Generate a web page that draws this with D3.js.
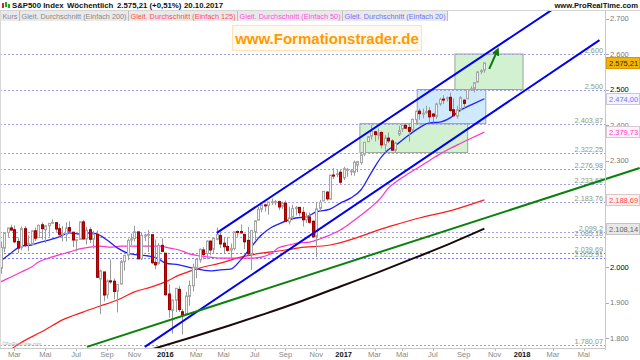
<!DOCTYPE html>
<html>
<head>
<meta charset="utf-8">
<script src="https://cdn.jsdelivr.net/npm/d3@7"></script>
<style>
    body { margin: 0; background: #fff; }
    svg { display: block; font-family: "Liberation Sans", Arial, sans-serif; }
</style>
</head>
<body>
<svg id="chart" width="640" height="360"></svg>
<script>

// weekly candles (week start, Monday)
var weeks = [
    "2015-02-02","2015-02-09","2015-02-16","2015-02-23","2015-03-02","2015-03-09","2015-03-16","2015-03-23","2015-03-30","2015-04-06",
    "2015-04-13","2015-04-20","2015-04-27","2015-05-04","2015-05-11","2015-05-18","2015-05-25","2015-06-01","2015-06-08","2015-06-15",
    "2015-06-22","2015-06-29","2015-07-06","2015-07-13","2015-07-20","2015-07-27","2015-08-03","2015-08-10","2015-08-17","2015-08-24",
    "2015-08-31","2015-09-07","2015-09-14","2015-09-21","2015-09-28","2015-10-05","2015-10-12","2015-10-19","2015-10-26","2015-11-02",
    "2015-11-09","2015-11-16","2015-11-23","2015-11-30","2015-12-07","2015-12-14","2015-12-21","2015-12-28",
    "2016-01-04","2016-01-11","2016-01-18","2016-01-25","2016-02-01","2016-02-08","2016-02-15","2016-02-22","2016-02-29","2016-03-07",
    "2016-03-14","2016-03-21","2016-03-28","2016-04-04","2016-04-11","2016-04-18","2016-04-25","2016-05-02","2016-05-09","2016-05-16",
    "2016-05-23","2016-05-30","2016-06-06","2016-06-13","2016-06-20","2016-06-27","2016-07-04","2016-07-11","2016-07-18","2016-07-25",
    "2016-08-01","2016-08-08","2016-08-15","2016-08-22","2016-08-29","2016-09-05","2016-09-12","2016-09-19","2016-09-26","2016-10-03",
    "2016-10-10","2016-10-17","2016-10-24","2016-10-31","2016-11-07","2016-11-14","2016-11-21","2016-11-28","2016-12-05","2016-12-12",
    "2016-12-19","2016-12-26",
    "2017-01-02","2017-01-09","2017-01-16","2017-01-23","2017-01-30","2017-02-06","2017-02-13","2017-02-20","2017-02-27","2017-03-06",
    "2017-03-13","2017-03-20","2017-03-27","2017-04-03","2017-04-10","2017-04-17","2017-04-24","2017-05-01","2017-05-08","2017-05-15",
    "2017-05-22","2017-05-29","2017-06-05","2017-06-12","2017-06-19","2017-06-26","2017-07-03","2017-07-10","2017-07-17","2017-07-24",
    "2017-07-31","2017-08-07","2017-08-14","2017-08-21","2017-08-28","2017-09-04","2017-09-11","2017-09-18","2017-09-25","2017-10-02",
    "2017-10-09","2017-10-16"
];
var opens = [
    1996,2053,2097,2110,2105,2072,2055,2108,2064,2064, 2102,2083,2119,2105,2116,2124,2125,2108,2092,2092,
    2111,2098,2075,2078,2127,2079,2105,2078,2092,1966, 1986,1922,1961,1960,1932,1952,2015,2033,2076,2080,
    2099,2023,2090,2090,2091,2013,2010,2061,
    2039,1924,1878,1906,1937,1874,1867,1917,1947,1996, 2020,2048,2038,2073,2050,2078,2089,2067,2058,2047,
    2052,2100,2100,2092,2075,2036,2099,2132,2163,2175, 2173,2183,2184,2184,2171,2180,2127,2140,2164,2168,
    2154,2133,2141,2129,2086,2165,2186,2211,2191,2259, 2260,2267,
    2251,2273,2269,2267,2287,2294,2318,2353,2369,2381, 2371,2379,2344,2363,2355,2329,2374,2389,2399,2393,
    2387,2415,2439,2431,2437,2440,2431,2424,2459,2473, 2477,2478,2443,2425,2444,2470,2474,2501,2503,2521,
    2550,2555
];
var highs = [
    2072,2097,2110,2119,2117,2083,2114,2115,2089,2103, 2111,2120,2126,2117,2123,2134,2126,2121,2115,2126,
    2129,2098,2078,2128,2133,2114,2112,2102,2103,1993, 1986,1965,2021,1968,1951,2020,2034,2080,2094,2116,
    2099,2097,2094,2104,2091,2077,2067,2081,
    2039,1951,1908,1940,1947,1882,1930,1962,2009,2022, 2052,2056,2075,2074,2083,2111,2099,2084,2084,2066,
    2099,2103,2120,2092,2113,2103,2131,2169,2176,2178, 2183,2193,2189,2187,2184,2187,2170,2175,2172,2169,
    2169,2153,2154,2131,2183,2189,2214,2214,2259,2278, 2273,2273,
    2282,2279,2276,2300,2299,2319,2351,2368,2401,2383, 2390,2382,2371,2379,2360,2353,2398,2400,2403,2405,
    2418,2440,2446,2446,2454,2450,2434,2463,2477,2484, 2480,2491,2475,2454,2481,2472,2500,2509,2520,2552,
    2557,2575
];
var lows = [
    1981,2041,2085,2103,2067,2039,2047,2057,2045,2064, 2073,2082,2077,2067,2085,2122,2099,2086,2072,2072,
    2097,2056,2044,2078,2077,2063,2067,2052,1970,1867, 1903,1911,1953,1909,1872,1951,1990,2019,2062,2072,
    2022,2020,2073,2042,2008,1994,2006,2043,
    1918,1857,1812,1873,1873,1810,1867,1891,1931,1969, 2012,2022,2022,2033,2039,2075,2053,2039,2043,2025,
    2047,2085,2094,2050,2033,1992,2075,2132,2154,2156, 2147,2175,2174,2160,2164,2128,2120,2131,2145,2144,
    2114,2124,2122,2083,2028,2157,2186,2187,2190,2248, 2253,2233,
    2245,2254,2258,2257,2267,2288,2312,2352,2359,2354, 2359,2334,2322,2349,2328,2323,2369,2380,2390,2353,
    2381,2405,2415,2419,2431,2406,2407,2417,2454,2459, 2466,2437,2425,2418,2438,2447,2474,2496,2492,2520,
    2544,2547
];
var closes = [
    2055,2097,2110,2104,2071,2053,2108,2061,2067,2102, 2081,2117,2108,2116,2123,2126,2107,2092,2094,2110,
    2101,2076,2077,2127,2079,2104,2078,2092,1971,1989, 1921,1961,1958,1931,1951,2015,2033,2075,2079,2099,
    2023,2089,2090,2092,2012,2006,2061,2044,
    1922,1880,1907,1940,1880,1865,1918,1948,1999,2022, 2050,2035,2073,2048,2081,2092,2065,2057,2047,2052,
    2099,2099,2096,2071,2037,2103,2130,2162,2175,2174, 2183,2184,2184,2169,2180,2128,2139,2165,2168,2153,
    2133,2141,2126,2085,2164,2182,2213,2192,2259,2258, 2263,2239,
    2277,2275,2271,2295,2297,2316,2351,2367,2383,2373, 2378,2344,2363,2355,2329,2349,2384,2399,2391,2382,
    2416,2439,2432,2433,2438,2423,2425,2459,2472,2472, 2477,2441,2426,2443,2477,2461,2500,2502,2519,2549,
    2553,2575
];

// moving averages: [week index, value]
var sma20 = [[0,2017],[3,2039],[6,2059],[9,2062],[11,2068],[14,2076],[17,2085],[20,2096],[23,2093],[26,2096],
    [28,2093],[31,2076],[34,2054],[37,2039],[40,2034],[43,2031],[46,2023],[48,2011],[52,2006],[56,1997],
    [61,1989],[64,1992],[67,1994],[70,2020],[73,2056],[76,2090],[79,2112],[81,2121],[86,2138],[89,2141],
    [92,2155],[96,2163],[99,2180],[102,2194],[105,2217],[108,2265],[111,2310],[113,2330],[116,2349],[119,2372],
    [122,2392],[125,2406],[128,2408],[131,2420],[134,2442],[137,2456],[141,2474]];
var sma50 = [[0,1958],[3,1972],[6,1986],[9,2000],[11,2014],[14,2025],[17,2034],[20,2042],[23,2051],[26,2056],
    [29,2059],[32,2056],[35,2059],[38,2059],[41,2059],[44,2059],[46,2059],[49,2054],[52,2048],[55,2037],
    [58,2031],[61,2028],[64,2025],[67,2025],[70,2025],[73,2025],[76,2028],[79,2039],[81,2054],[84,2062],
    [87,2068],[90,2070],[93,2079],[96,2090],[99,2104],[102,2124],[105,2146],[108,2169],[111,2197],[113,2222],
    [116,2245],[119,2264],[122,2282],[125,2300],[128,2318],[131,2334],[134,2348],[137,2362],[141,2380]];
var sma125 = [[2,1760],[4,1775],[13,1823],[18,1851],[24,1873],[29,1890],[34,1907],[39,1930],[44,1944],[48,1958],
    [52,1977],[58,1997],[64,2011],[70,2028],[76,2039],[81,2045],[87,2054],[96,2062],[113,2113],[122,2138],
    [132,2161],[141,2189]];
var sma200 = [[44,1768],[55,1800],[66,1833],[77,1868],[88,1905],[99,1945],[110,1985],[121,2027],[131,2066],[141,2108]];

// drawn trend lines and boxes: [date, price]
var channelUpper = [["2016-04-18", 2096], ["2018-04-02", 2752]];
var channelLower = [["2015-11-23", 1775], ["2018-06-08", 2639]];
var supportLine = [["2015-07-28", 1775], ["2018-08-29", 2279]];
var boxes = [
    ["2017-02-04", "2017-09-12", 2322.25, 2403.87],
    ["2017-06-01", "2017-10-19", 2403.87, 2500],
    ["2017-08-17", "2018-01-03", 2500, 2600]
];
var arrowPts = [["2017-10-26", 2558], ["2017-11-11", 2608]];

// horizontal levels
var levels = [2600, 2500, 2403.87, 2322.25, 2276.98, 2233.62, 2183.76, 2099.2, 2085.18, 2039.69, 2025.91, 1780.07];
var levelLabels = ["2.600", "2.500", "2.403,87", "2.322,25", "2.276,98", "2.233,62", "2.183,76", "2.099,2", "2.085,18", "2.039,69", "2.025,91", "1.780,07"];

// last values of price and averages
var lastValues = [2575.21, 2474.00, 2379.73, 2188.69, 2108.14];
var lastLabels = ["2.575,21", "2.474,00", "2.379,73", "2.188,69", "2.108,14"];

// axis ticks
var yTicks = [1800, 1900, 2000, 2100, 2200, 2300, 2400, 2500, 2600, 2700];
var yTickLabels = ["1.800", "1.900", "2.000", "2.100", "2.200", "2.300", "2.400", "2.500", "2.600", "2.700"];
var xTicks = ["2015-03-02","2015-05-04","2015-07-06","2015-09-07","2015-11-02","2016-01-04","2016-03-07","2016-05-02",
    "2016-07-04","2016-09-05","2016-11-07","2017-01-02","2017-03-06","2017-05-01","2017-07-03","2017-09-04",
    "2017-11-06","2018-01-01","2018-03-05","2018-05-07"];
var xTickLabels = ["Mar","Mai","Jul","Sep","Nov","2016","Mar","Mai","Jul","Sep","Nov","2017","Mar","Mai","Jul","Sep","Nov","2018","Mar","Mai"];

var legendItems = ["Kurs", "Gleit. Durchschnitt (Einfach 200)", "Gleit. Durchschnitt (Einfach 125)",
    "Gleit. Durchschnitt (Einfach 50)", "Gleit. Durchschnitt (Einfach 20)"];


var svg = d3.select("#chart");
var plotRight = 605, plotTop = 10, plotBottom = 348;

var x = d3.scaleTime()
    .domain([new Date("2015-02-02"), new Date("2018-06-18")])
    .range([0.7, 604.4]);
var y = d3.scaleLinear()
    .domain([1800, 2600])
    .range([338, 54]);

svg.append("defs").append("clipPath").attr("id", "plotclip")
    .append("rect").attr("x", 0).attr("y", plotTop).attr("width", plotRight).attr("height", plotBottom - plotTop);
svg.select("defs").append("clipPath").attr("id", "wideclip")
    .append("rect").attr("x", 0).attr("y", plotTop).attr("width", 640).attr("height", plotBottom - plotTop);

var plot = svg.append("g").attr("clip-path", "url(#plotclip)");

// boxes under everything
var boxFills = ["#c9efc9", "#c6e6fb", "#c9efc9"];
plot.selectAll(".box").data(boxes).enter().append("rect")
    .attr("class", "box")
    .attr("x", function (d) { return x(new Date(d[0])); })
    .attr("y", function (d) { return y(d[3]); })
    .attr("width", function (d) { return x(new Date(d[1])) - x(new Date(d[0])); })
    .attr("height", function (d) { return y(d[2]) - y(d[3]); })
    .style("fill", function (d, i) { return boxFills[i]; })
    .style("fill-opacity", 0.85)
    .style("stroke", "#9aa59a")
    .style("stroke-width", 1);

// dashed levels
var levelColor = function (v) { return (v === 2039.69 || v === 2025.91) ? "#7d7dff" : "#a79fe6"; };
plot.selectAll(".level").data(levels).enter().append("line")
    .attr("class", "level")
    .attr("x1", 0).attr("x2", plotRight)
    .attr("y1", function (d) { return Math.round(y(d)) + 0.5; })
    .attr("y2", function (d) { return Math.round(y(d)) + 0.5; })
    .style("stroke", levelColor)
    .style("stroke-width", 1)
    .style("stroke-dasharray", "2,2");

plot.selectAll(".levelLabel").data(levels).enter().append("text")
    .attr("x", 603)
    .attr("y", function (d) { return Math.round(y(d)) - 1; })
    .attr("text-anchor", "end")
    .style("font-size", "7.3px")
    .style("fill", "#8c9a80")
    .text(function (d, i) { return levelLabels[i]; });

// moving averages
var maLine = d3.line()
    .x(function (d) { return x(new Date(weeks[d[0]])); })
    .y(function (d) { return y(d[1]); })
    .curve(d3.curveMonotoneX);

var maSeries = [
    {data: sma125, color: "#ff1a1a", width: 1.2},
    {data: sma50, color: "#ff33cc", width: 1.2},
    {data: sma200, color: "#1a0a0a", width: 2},
    {data: sma20, color: "#1f1fff", width: 1.3}
];
maSeries.forEach(function (s) {
    plot.append("path")
        .datum(s.data)
        .attr("d", maLine)
        .style("fill", "none")
        .style("stroke", s.color)
        .style("stroke-width", s.width);
});

// candles
var candles = weeks.map(function (w, i) {
    return {date: new Date(w), o: opens[i], h: highs[i], l: lows[i], c: closes[i]};
});
var cg = plot.selectAll(".candle").data(candles).enter().append("g").attr("class", "candle");
cg.append("line")
    .attr("x1", function (d) { return Math.round(x(d.date)) + 0.5; })
    .attr("x2", function (d) { return Math.round(x(d.date)) + 0.5; })
    .attr("y1", function (d) { return y(d.h); })
    .attr("y2", function (d) { return y(d.l); })
    .style("stroke", "#9a9a9a")
    .style("stroke-width", 1);
cg.append("rect")
    .attr("x", function (d) { return Math.round(x(d.date)) - 0.5; })
    .attr("y", function (d) { return y(Math.max(d.o, d.c)); })
    .attr("width", 2)
    .attr("height", function (d) { return Math.max(1, Math.abs(y(d.o) - y(d.c))); })
    .style("fill", function (d) { return d.c >= d.o ? "#f6f6f6" : "#dd0000"; })
    .style("stroke", function (d) { return d.c >= d.o ? "#a6a6a6" : "#a00000"; })
    .style("stroke-width", 1);

// trend lines
var tLine = d3.line()
    .x(function (d) { return x(new Date(d[0])); })
    .y(function (d) { return y(d[1]); });

var wide = svg.append("g").attr("clip-path", "url(#wideclip)");
wide.append("path").datum(supportLine).attr("d", tLine)
    .style("fill", "none").style("stroke", "#0a820a").style("stroke-width", 2);
plot.append("path").datum(channelUpper).attr("d", tLine)
    .style("fill", "none").style("stroke", "#0000f0").style("stroke-width", 2);
plot.append("path").datum(channelLower).attr("d", tLine)
    .style("fill", "none").style("stroke", "#0000f0").style("stroke-width", 2);

// arrow
svg.select("defs").append("marker")
    .attr("id", "head").attr("viewBox", "0 0 10 10")
    .attr("refX", 5).attr("refY", 5)
    .attr("markerWidth", 4).attr("markerHeight", 4)
    .attr("orient", "auto")
    .append("path").attr("d", "M0,0L10,5L0,10Z").style("fill", "#0a7a0a");
plot.append("path").datum(arrowPts).attr("d", tLine)
    .style("fill", "none").style("stroke", "#0a7a0a").style("stroke-width", 2)
    .attr("marker-end", "url(#head)");

// frame
svg.append("line").attr("x1", plotRight + 0.5).attr("x2", plotRight + 0.5)
    .attr("y1", plotTop).attr("y2", plotBottom + 2)
    .style("stroke", "#c8c8c8");
svg.append("line").attr("x1", 0).attr("x2", plotRight)
    .attr("y1", plotBottom + 0.5).attr("y2", plotBottom + 0.5)
    .style("stroke", "#c8c8c8");
svg.append("line").attr("x1", 0.5).attr("x2", 0.5)
    .attr("y1", plotTop).attr("y2", plotBottom)
    .style("stroke", "#d8d8d8");

// right axis
var yAxis = svg.append("g");
yAxis.selectAll("line").data(yTicks).enter().append("line")
    .attr("x1", plotRight + 1).attr("x2", plotRight + 4)
    .attr("y1", function (d) { return Math.round(y(d)) + 0.5; })
    .attr("y2", function (d) { return Math.round(y(d)) + 0.5; })
    .style("stroke", "#aaa");
yAxis.selectAll("text").data(yTicks).enter().append("text")
    .attr("x", plotRight + 5)
    .attr("y", function (d) { return y(d) + 2.6; })
    .style("font-size", "7.5px")
    .style("fill", function (d) { return (d === 2000 || d === 2500) ? "#000" : "#777"; })
    .text(function (d, i) { return yTickLabels[i]; });

// value boxes
var boxStyles = [
    {fill: "#f5b400", stroke: "#d69a00", text: "#2b2b2b"},
    {fill: "#f4f4ff", stroke: "#c8c8d8", text: "#7373ff"},
    {fill: "#fff2fb", stroke: "#d8c8d0", text: "#ff40c8"},
    {fill: "#fff0f0", stroke: "#d8c8c8", text: "#ff4a4a"},
    {fill: "#e8e8e8", stroke: "#c4c4c4", text: "#666"}
];
var vb = svg.selectAll(".vbox").data(lastValues).enter().append("g").attr("class", "vbox");
vb.append("rect")
    .attr("x", plotRight + 1.5)
    .attr("y", function (d) { return Math.round(y(d)) - 5.5; })
    .attr("width", 33).attr("height", 11)
    .style("fill", function (d, i) { return boxStyles[i].fill; })
    .style("stroke", function (d, i) { return boxStyles[i].stroke; });
vb.append("text")
    .attr("x", plotRight + 4)
    .attr("y", function (d) { return Math.round(y(d)) + 3; })
    .style("font-size", "7.5px")
    .style("fill", function (d, i) { return boxStyles[i].text; })
    .text(function (d, i) { return lastLabels[i]; });

// bottom axis
var xAxis = svg.append("g");
xAxis.selectAll("line").data(xTicks).enter().append("line")
    .attr("x1", function (d) { return Math.round(x(new Date(d))) + 0.5; })
    .attr("x2", function (d) { return Math.round(x(new Date(d))) + 0.5; })
    .attr("y1", plotBottom + 1).attr("y2", plotBottom + 3)
    .style("stroke", "#bbb");
xAxis.selectAll("text").data(xTicks).enter().append("text")
    .attr("x", function (d) { return x(new Date(d)); })
    .attr("y", 357)
    .attr("text-anchor", "middle")
    .style("font-size", "7.5px")
    .style("font-weight", function (d, i) { return /^\d+$/.test(xTickLabels[i]) ? "bold" : "normal"; })
    .style("fill", function (d, i) { return /^\d+$/.test(xTickLabels[i]) ? "#111" : "#888"; })
    .text(function (d, i) { return xTickLabels[i]; });

svg.append("text").attr("x", 2).attr("y", 346)
    .style("font-size", "4.5px").style("fill", "#aaa")
    .text("©ProRealTime.com");

// header
svg.append("rect").attr("x", 0).attr("y", 0).attr("width", 640).attr("height", 10).style("fill", "#fff");
svg.append("line").attr("x1", 0).attr("x2", 640).attr("y1", 10.5).attr("y2", 10.5).style("stroke", "#d4d4d4");
svg.append("rect").attr("x", 2).attr("y", 3).attr("width", 2).attr("height", 5).style("fill", "#dd2222");
svg.append("rect").attr("x", 5).attr("y", 2).attr("width", 2).attr("height", 5).style("fill", "#22aa22");
svg.append("rect").attr("x", 8).attr("y", 4).attr("width", 2).attr("height", 4).style("fill", "#22aa22");

var head = svg.append("text").attr("y", 8.3)
    .style("font-size", "7.8px").style("font-weight", "bold").style("fill", "#111");
head.append("tspan").attr("x", 12).text("S&P500 Index");
head.append("tspan").attr("x", 67).text("Wöchentlich");
head.append("tspan").attr("x", 117).text("2.575,21 (+0,51%)");
head.append("tspan").attr("x", 184).text("20.10.2017");

svg.append("text").attr("x", 638).attr("y", 8.3).attr("text-anchor", "end")
    .style("font-size", "7.6px").style("font-weight", "bold").style("fill", "#111")
    .text("www.ProRealTime.com");

// legend row
var legendColors = ["#8a8a8a", "#8a8a8a", "#ff4f4f", "#ff4fe0", "#6f6fff"];
var lx = 1;
legendItems.forEach(function (t, i) {
    var g = svg.append("g");
    var bg = g.append("rect").attr("y", 11).attr("height", 10).style("fill", "#e9e9e9");
    var txt = g.append("text").attr("x", lx + 1.5).attr("y", 18.8)
        .style("font-size", "7.3px").style("fill", legendColors[i]).text(t);
    var w = txt.node().getComputedTextLength() + 3;
    bg.attr("x", lx).attr("width", w);
    g.append("line").attr("x1", lx + w + 0.5).attr("x2", lx + w + 0.5).attr("y1", 11).attr("y2", 21)
        .style("stroke", "#b8b8b8");
    lx += w + 1;
});

// site stamp
svg.append("rect").attr("x", 232.5).attr("y", 25.5).attr("width", 189).attr("height", 25)
    .style("fill", "#fffaf1").style("stroke", "#ffe2b8");
svg.append("text").attr("x", 327).attr("y", 43.5).attr("text-anchor", "middle")
    .style("font-size", "15px").style("font-weight", "bold").style("fill", "#ff9a00")
    .text("www.Formationstrader.de");

</script>
</body>
</html>
